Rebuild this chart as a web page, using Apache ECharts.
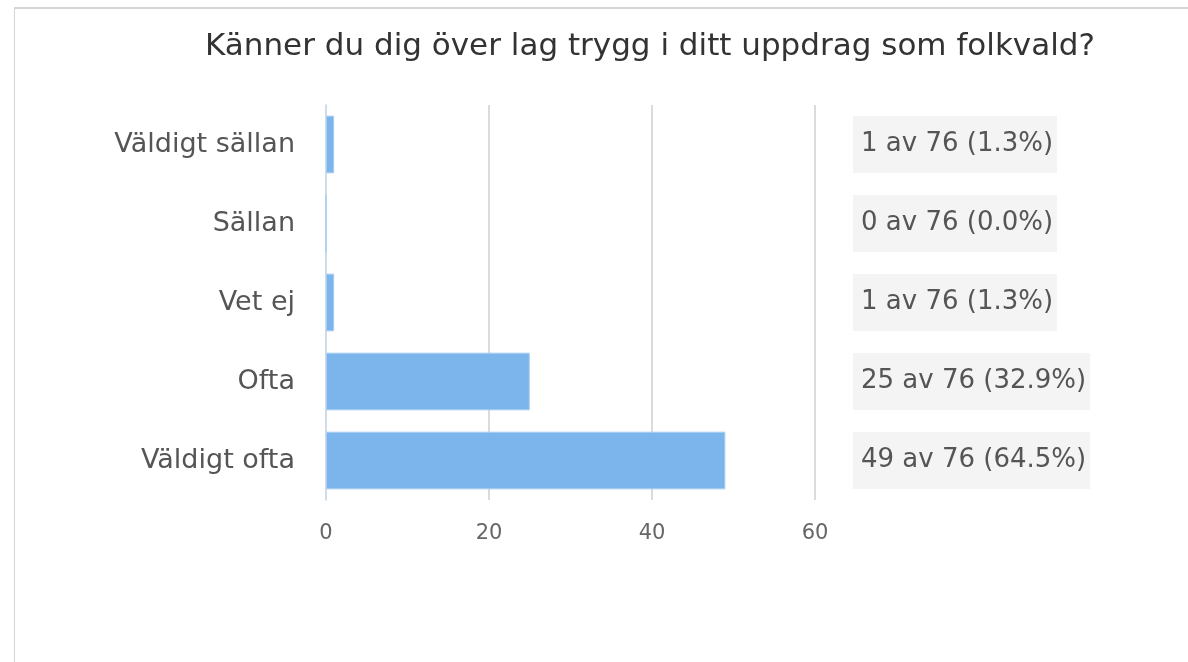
<!DOCTYPE html>
<html>
<head>
<meta charset="utf-8">
<script src="https://cdn.jsdelivr.net/npm/echarts@6/dist/echarts.min.js"></script>
<style>
  html, body { margin: 0; padding: 0; background: #fff; }
  #frame {
    position: absolute; left: 14px; top: 7px; width: 1200px; height: 700px;
    border-left: 1px solid #d4d4d4; border-top: 2px solid #d4d4d4;
  }
  #chart { position: absolute; left: 0; top: 0; width: 1188px; height: 662px; }
</style>
</head>
<body>
<div id="frame"></div>
<div id="chart"></div>
<script>
let titleText = 'Känner du dig över lag trygg i ditt uppdrag som folkvald?'
let categories = ['Väldigt sällan', 'Sällan', 'Vet ej', 'Ofta', 'Väldigt ofta']
let counts = [1, 0, 1, 25, 49]
let xTicks = [0, 20, 40, 60]

let total = counts.reduce((a, b) => a + b, 0)
// text for the boxes on the right
function summary(i) {
  let v = counts[i]
  return v + ' av ' + total + ' (' + (v / total * 100).toFixed(1) + '%)'
}

let font = '"DejaVu Sans", Verdana, sans-serif'
let chart = echarts.init(document.getElementById('chart'))
let option = {
  animation: false,
  title: {
    text: titleText,
    left: 645,
    textAlign: 'center',
    top: 26,
    textStyle: { fontFamily: font, fontSize: 31, fontWeight: 'normal', color: '#333' }
  },
  grid: { left: 326, right: 373, top: 105, bottom: 162 },
  xAxis: {
    type: 'value',
    min: xTicks[0],
    max: xTicks[xTicks.length - 1],
    interval: 20,
    axisLine: { show: false },
    axisTick: { show: false },
    splitLine: {
      show: true,
      lineStyle: { color: '#cfcfcf', width: 1.5 },
      showMinLine: false
    },
    axisLabel: { fontFamily: font, fontSize: 21, color: '#666', margin: 23 }
  },
  yAxis: [
    {
      type: 'category',
      data: categories,
      inverse: true,
      axisLine: { show: true, lineStyle: { color: '#c0d0e0', width: 1.5 } },
      axisTick: { show: false },
      axisLabel: { fontFamily: font, fontSize: 27, color: '#555', margin: 31 }
    },
    {
      type: 'category',
      data: categories,
      inverse: true,
      position: 'right',
      axisLine: { show: false },
      axisTick: { show: false },
      axisLabel: {
        fontFamily: font,
        fontSize: 26,
        color: '#555',
        margin: 38,
        align: 'left',
        backgroundColor: '#f4f4f4',
        padding: [16, 4, 15, 8],
        formatter: (val, i) => summary(i)
      }
    }
  ],
  series: [
    {
      name: 'Antal',
      type: 'bar',
      data: counts,
      barWidth: '73%',
      itemStyle: { color: '#7cb5ec', borderColor: '#a8cdf2', borderWidth: 1 }
    }
  ]
}
chart.setOption(option)
</script>
</body>
</html>
